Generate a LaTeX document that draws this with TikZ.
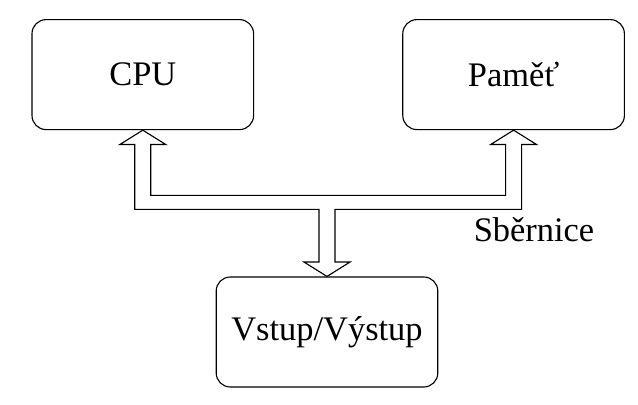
\documentclass[tikz,border=0pt]{standalone}
\usepackage{fontspec}
\setmainfont{Liberation Serif}
\usetikzlibrary{calc}

\begin{document}
\begin{tikzpicture}[
    unitbox/.style={draw, rounded corners=10pt, line width=0.8pt, minimum width=5.54cm, minimum height=2.75cm, align=center, font=\fontsize{24.5}{29}\selectfont},
    busline/.style={draw, line width=0.8pt, line join=miter}
  ]
  \useasboundingbox (0,0) rectangle (15.95,10.125);

  %% Units
  \node[unitbox] (cpu) at (3.57,8.26)   {CPU};
  \node[unitbox] (mem) at (12.84,8.26)  {Paměť};
  \node[unitbox] (io)  at (8.175,1.825) {Vstup/Výstup};

  %% Bus
  \coordinate (bus) at ($(io.north)+(0,1.85)$);
  \draw[busline] (cpu.south) -- ++(0.575,-0.36) -- ++(-0.375,0)
    |- ($(bus)+(0,0.175)$) -| ($(mem.south)+(-0.2,-0.36)$) -- ++(-0.375,0)
    -- (mem.south) -- ++(0.575,-0.36) -- ++(-0.375,0)
    |- ($(bus)+(0.2,-0.175)$) -- ($(io.north)+(0.2,0.36)$) -- ++(0.375,0)
    -- (io.north) -- ++(-0.575,0.36) -- ++(0.375,0)
    -- ($(bus)+(-0.2,-0.175)$) -| ($(cpu.south)+(-0.2,-0.36)$) -- ++(-0.375,0)
    -- cycle;

  %% Label
  \node[anchor=base, font=\fontsize{24.5}{29}\selectfont] (buslabel) at (13.35,4.08) {Sběrnice};
\end{tikzpicture}
\end{document}
